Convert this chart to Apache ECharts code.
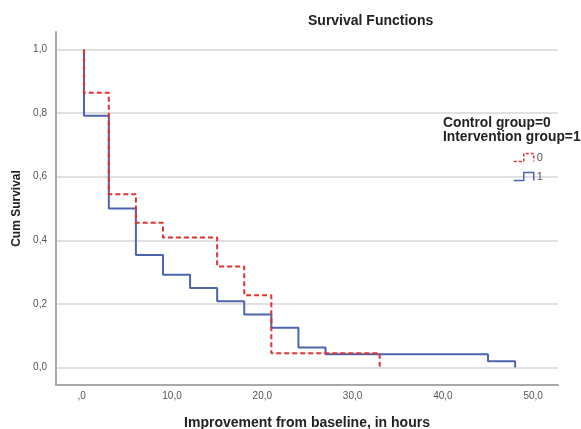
<!DOCTYPE html>
<html>
<head>
<meta charset="utf-8">
<script src="https://cdn.jsdelivr.net/npm/echarts@6/dist/echarts.min.js"></script>
<style>
  html, body { margin: 0; padding: 0; background: #fff; }
  #chart { width: 581px; height: 429px; }
</style>
</head>
<body>
<div id="chart"></div>
<script>
// Kaplan-Meier steps: [time, cum survival]
var controlSteps = [[0.25, 1], [0.25, 0.864], [3, 0.545], [6, 0.455], [9, 0.409], [15, 0.318], [18, 0.227], [21, 0.045], [33, 0]];
var interventionSteps = [[0.25, 1], [0.25, 0.792], [3, 0.5], [6, 0.354], [9, 0.292], [12, 0.25], [15, 0.208], [18, 0.167], [21, 0.125], [24, 0.063], [27, 0.042], [45, 0.02], [48, 0]];

var xTicks = [0, 10, 20, 30, 40, 50];
var xTickLabels = [',0', '10,0', '20,0', '30,0', '40,0', '50,0'];
var yTicks = [0, 0.2, 0.4, 0.6, 0.8, 1.0];
var yTickLabels = ['0,0', '0,2', '0,4', '0,6', '0,8', '1,0'];

var FONT = 'Liberation Sans, Arial, sans-serif';
var RED = '#e0332f';
var BLUE = '#4d64b0';

function pickLabel(ticks, labels) {
	return function (v) {
		for (var i = 0; i < ticks.length; i++) {
			if (Math.abs(ticks[i] - v) < 1e-6) return labels[i];
		}
		return '';
	};
}

var myChart = echarts.init(document.getElementById('chart'));

var option = {
	animation: false,
	textStyle: { fontFamily: FONT },
	title: [{
		text: 'Survival Functions',
		left: 308,
		top: 14,
		padding: 0,
		textStyle: { fontSize: 14, fontWeight: 'bold', color: '#222', fontFamily: FONT }
	}, {
		text: 'Control group=0\nIntervention group=1',
		left: 443,
		top: 116,
		padding: 0,
		textStyle: { fontSize: 13.8, lineHeight: 14, fontWeight: 'bold', color: '#222', fontFamily: FONT }
	}],
	legend: {
		orient: 'vertical',
		left: 513,
		top: 152,
		padding: 0,
		itemWidth: 22,
		itemHeight: 8,
		itemGap: 8,
		icon: 'path://M0,8L10,8L10,0L20,0L20,8',
		textStyle: { fontSize: 11, color: '#555', fontFamily: FONT, padding: [0, 0, 0, -3] },
		data: [
			{ name: '0', itemStyle: { color: 'transparent', borderColor: RED, borderWidth: 1.5, borderType: [3, 2] } },
			{ name: '1', itemStyle: { color: 'transparent', borderColor: BLUE, borderWidth: 1.5 } }
		]
	},
	grid: {
		left: 56,
		right: 23,
		top: 32,
		bottom: 44,
		outerBoundsMode: 'none'
	},
	xAxis: {
		type: 'value',
		min: -2.85,
		max: 52.75,
		name: 'Improvement from baseline, in hours',
		nameLocation: 'middle',
		nameGap: 31,
		nameTextStyle: { fontSize: 14, fontWeight: 'bold', color: '#222', fontFamily: FONT },
		axisLine: { onZero: false, lineStyle: { color: '#a9a9a9', width: 2 } },
		axisTick: { show: false, customValues: xTicks },
		axisLabel: {
			customValues: xTicks,
			formatter: pickLabel(xTicks, xTickLabels),
			margin: 6,
			fontSize: 10,
			color: '#555'
		},
		splitLine: { show: false }
	},
	yAxis: {
		type: 'value',
		min: -0.055,
		max: 1.055,
		name: 'Cum Survival',
		nameLocation: 'middle',
		nameRotate: 90,
		nameGap: 23,
		nameTextStyle: { fontSize: 12, fontWeight: 'bold', color: '#222', fontFamily: FONT },
		axisLine: { show: true, onZero: false, lineStyle: { color: '#a9a9a9', width: 2 } },
		axisTick: { show: false, customValues: yTicks },
		axisLabel: {
			customValues: yTicks,
			formatter: pickLabel(yTicks, yTickLabels),
			margin: 9,
			fontSize: 10,
			color: '#555'
		},
		splitLine: { show: true, lineStyle: { color: '#d6d6d6', width: 1.5 } }
	},
	series: [{
		name: '0',
		type: 'line',
		step: 'end',
		symbol: 'none',
		data: controlSteps,
		z: 3,
		lineStyle: { color: RED, width: 2, type: [5, 3] },
		itemStyle: { color: RED }
	}, {
		name: '1',
		type: 'line',
		step: 'end',
		symbol: 'none',
		data: interventionSteps,
		z: 2,
		lineStyle: { color: BLUE, width: 2 },
		itemStyle: { color: BLUE }
	}]
};

myChart.setOption(option);
</script>
</body>
</html>
